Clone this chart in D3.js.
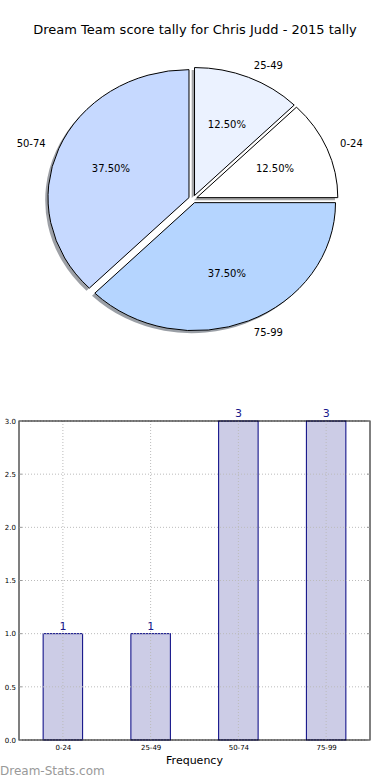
<!DOCTYPE html>
<html><head><meta charset="utf-8">
<script src="https://cdn.jsdelivr.net/npm/d3@7"></script>
<style>body{margin:0;background:#fff;}svg{display:block;font-family:"DejaVu Sans",sans-serif;}</style>
</head><body>
<svg id="c" width="390" height="780"></svg>
<script>
const title = "Dream Team score tally for Chris Judd - 2015 tally";
const categories = ["0-24", "25-49", "50-74", "75-99"];
const counts = [1, 1, 3, 3];
const pieColors = ["#ffffff", "#ebf2ff", "#c6d9ff", "#b5d5ff"];
const yTicks = [0, 0.5, 1.0, 1.5, 2.0, 2.5, 3.0];
const xLabel = "Frequency";
const watermark = "Dream-Stats.com";

const svg = d3.select("#c");

// Title
svg.append("text").attr("x", 195).attr("y", 34).attr("text-anchor", "middle")
  .attr("font-size", 13).attr("fill", "#000").text(title);

// ---- Pie (elliptical, matplotlib style) ----
const cx = 192.9, cy = 199.1, rx = 141, ry = 128, explode = 0.03;
const total = d3.sum(counts);
const pie = d3.pie().sort(null).startAngle(Math.PI / 2).endAngle(Math.PI / 2 - 2 * Math.PI);
const arcs = pie(counts);
const arc = d3.arc().innerRadius(0).outerRadius(1);
const pg = svg.append("g").attr("transform", `translate(${cx},${cy})`);
function dir(a) { return [Math.sin(a), -Math.cos(a)]; }
// shadows
arcs.forEach((d, i) => {
  const m = (d.startAngle + d.endAngle) / 2, v = dir(m);
  const c = d3.rgb(pieColors[i]);
  pg.append("path")
    .attr("transform", `scale(${rx},${ry}) translate(${v[0] * explode - 0.02},${v[1] * explode + 0.02})`)
    .attr("d", arc(d))
    .attr("fill", d3.rgb(c.r * 0.3, c.g * 0.3, c.b * 0.3)).attr("fill-opacity", 0.5);
});
// wedges
arcs.forEach((d, i) => {
  const m = (d.startAngle + d.endAngle) / 2, v = dir(m);
  pg.append("path")
    .attr("transform", `scale(${rx},${ry}) translate(${v[0] * explode},${v[1] * explode})`)
    .attr("d", arc(d))
    .attr("fill", pieColors[i]).attr("stroke", "#000").attr("stroke-width", 1)
    .attr("vector-effect", "non-scaling-stroke").attr("stroke-linejoin", "miter");
});
// labels
arcs.forEach((d, i) => {
  const m = (d.startAngle + d.endAngle) / 2, v = dir(m);
  const lx = v[0] * (1.1 + explode) * rx, ly = v[1] * (1.1 + explode) * ry;
  pg.append("text").attr("x", lx).attr("y", ly).attr("dy", "0.35em")
    .attr("text-anchor", lx > 0 ? "start" : "end").attr("font-size", 10).text(categories[i]);
  const px = v[0] * (0.6 + explode) * rx, py = v[1] * (0.6 + explode) * ry;
  pg.append("text").attr("x", px).attr("y", py).attr("dy", "0.35em")
    .attr("text-anchor", "middle").attr("font-size", 10)
    .text(d3.format(".2f")(d.value / total * 100) + "%");
});

// ---- Bar chart ----
const L = 19, R = 370, T = 421, B = 740;
const x = d3.scalePoint().domain(categories).range([L, R]).padding(0.5);
const step = x.step();
const bw = step * 0.45;
const y = d3.scaleLinear().domain([0, 3]).range([B, T]);
const bg = svg.append("g");

bg.selectAll("rect.bar").data(categories).enter().append("rect")
  .attr("x", d => x(d) - bw / 2).attr("y", (d, i) => y(counts[i]))
  .attr("width", bw).attr("height", (d, i) => B - y(counts[i]))
  .attr("fill", "#cccce6").attr("stroke", "#000080").attr("stroke-width", 1);

// grid
yTicks.forEach(t => {
  bg.append("line").attr("x1", L).attr("x2", R).attr("y1", y(t)).attr("y2", y(t))
    .attr("stroke", "#bbb").attr("stroke-dasharray", "1,2").attr("stroke-width", 1);
});
categories.forEach(c => {
  bg.append("line").attr("x1", x(c)).attr("x2", x(c)).attr("y1", T).attr("y2", B)
    .attr("stroke", "#bbb").attr("stroke-dasharray", "1,2").attr("stroke-width", 1);
});

// frame
bg.append("rect").attr("x", L).attr("y", T).attr("width", R - L).attr("height", B - T)
  .attr("fill", "none").attr("stroke", "#000").attr("stroke-width", 1);

// axes via d3
const yAxis = d3.axisLeft(y).tickValues(yTicks).tickFormat(d3.format(".1f")).tickSize(0).tickPadding(3);
const ya = svg.append("g").attr("transform", `translate(${L},0)`).call(yAxis);
ya.select(".domain").remove();
ya.selectAll("text").attr("font-size", 7).attr("font-family", "DejaVu Sans").attr("fill", "#000");

const xAxis = d3.axisBottom(x).tickSize(0).tickPadding(5);
const xa = svg.append("g").attr("transform", `translate(0,${B})`).call(xAxis);
xa.select(".domain").remove();
xa.selectAll("text").attr("font-size", 7).attr("font-family", "DejaVu Sans").attr("fill", "#000");

// small inward tick marks
yTicks.forEach(t => {
  bg.append("line").attr("x1", L).attr("x2", L + 3).attr("y1", y(t)).attr("y2", y(t)).attr("stroke", "#999");
  bg.append("line").attr("x1", R - 3).attr("x2", R).attr("y1", y(t)).attr("y2", y(t)).attr("stroke", "#999");
});

// value labels
bg.selectAll("text.val").data(categories).enter().append("text")
  .attr("x", d => x(d)).attr("y", (d, i) => y(counts[i]) - 4)
  .attr("text-anchor", "middle").attr("font-size", 11).attr("fill", "#1a1a8c")
  .text((d, i) => counts[i]);

svg.append("text").attr("x", (L + R) / 2).attr("y", 764).attr("text-anchor", "middle")
  .attr("font-size", 11).text(xLabel);

svg.append("text").attr("x", 0).attr("y", 775).attr("font-size", 12)
  .attr("fill", "#999").text(watermark);
</script>
</body></html>
